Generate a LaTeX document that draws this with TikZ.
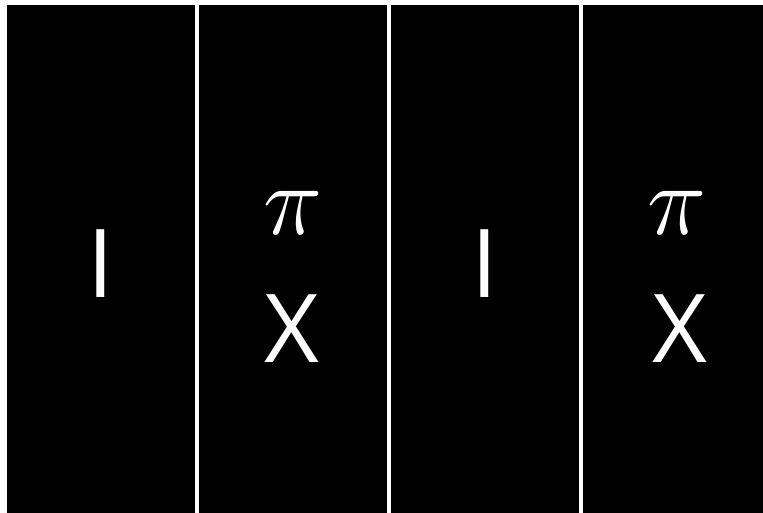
\RequirePackage{fix-cm}
\documentclass[tikz,border=0pt]{standalone}
\usepackage{fontspec}
\newfontfamily\osans{Open Sans}
\begin{document}
\begin{tikzpicture}[x=1pt,y=-1pt,
  panel/.style={fill=black,draw=none},
  lbl/.style={text=white,inner sep=0pt,anchor=base,font=\osans\fontsize{95}{95}\selectfont},
  pilbl/.style={text=white,inner sep=0pt,anchor=base,font=\fontsize{100}{100}\selectfont}]
\useasboundingbox (0,0) rectangle (763,513);
\fill[white] (0,0) rectangle (763,513);
\path[panel] (7,5) rectangle (195,513);
\path[panel] (199,5) rectangle (387,513);
\path[panel] (391,5) rectangle (579,513);
\path[panel] (583,5) rectangle (763,513);
\node[lbl] (i1) at (101,297) {I};
\node[pilbl] (p1) at (293,235) {$\pi$};
\node[lbl] (x1) at (292,362) {X};
\node[lbl] (i2) at (485,297) {I};
\node[pilbl] (p2) at (677,235) {$\pi$};
\node[lbl] (x2) at (680,362) {X};
\end{tikzpicture}
\end{document}
